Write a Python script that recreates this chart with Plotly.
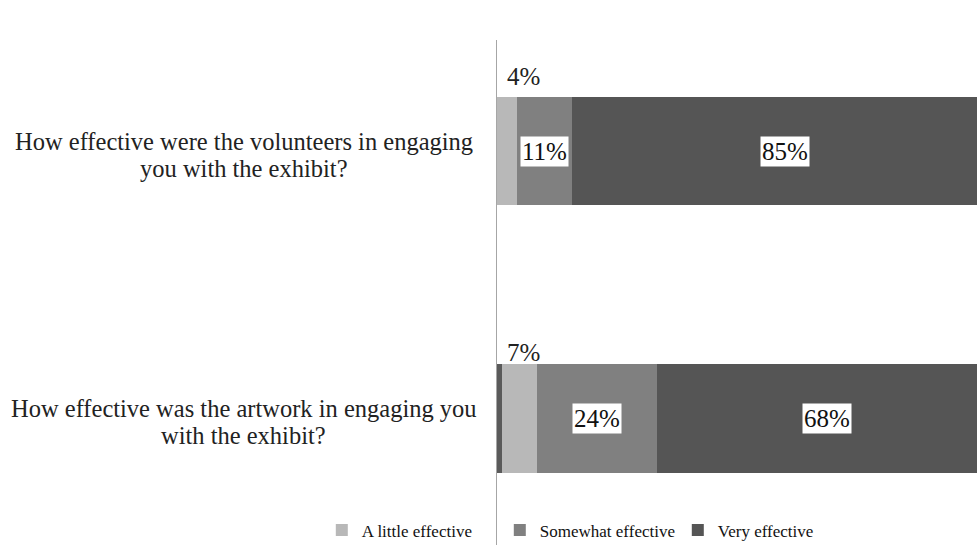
import plotly.graph_objects as go

questions = [
    ["How effective were the volunteers in engaging", "you with the exhibit?"],
    ["How effective was the artwork in engaging you", "with the exhibit?"],
]
series_names = ["Not at all effective", "A little effective", "Somewhat effective", "Very effective"]
not_at_all = [0, 1]
a_little = [4, 7]
somewhat = [11, 24]
very = [85, 68]

colors = ["#5a5a5a", "#b8b8b8", "#808080", "#555555"]
all_vals = [not_at_all, a_little, somewhat, very]
ypos = [0, 1]

fig = go.Figure()
for k, (name, vals) in enumerate(zip(series_names, all_vals)):
    fig.add_trace(go.Bar(
        y=ypos, x=vals, orientation="h", name=name,
        marker=dict(color=colors[k], line=dict(width=0)),
        showlegend=(k != 0), hoverinfo="x+name",
    ))

FONT = "Liberation Serif, Times New Roman, serif"
annotations = []
# category labels (centered, two lines each)
line_shifts = [10, -17]
for i, lines in enumerate(questions):
    for j, line in enumerate(lines):
        annotations.append(dict(
            x=-0.528, xref="paper", y=ypos[i], yref="y", text=line, showarrow=False,
            align="center", xanchor="center", yanchor="middle", yshift=line_shifts[j],
            font=dict(family=FONT, size=24.5, color="#222222"),
        ))

small_yshift = [6, -3]
for i in ypos:
    # small label above bar
    annotations.append(dict(
        x=0, xref="x", y=i - 0.2, yref="y", text=f"{a_little[i]}%",
        showarrow=False, xanchor="left", yanchor="bottom", xshift=8, yshift=small_yshift[i],
        font=dict(family=FONT, size=25, color="#222222"),
    ))
    cum = not_at_all[i] + a_little[i]
    for vals in (somewhat, very):
        center = cum + vals[i] / 2
        annotations.append(dict(
            x=center, xref="x", y=i, yref="y", text=f"{vals[i]}%",
            showarrow=False, xanchor="center", yanchor="middle",
            bgcolor="white", borderpad=1,
            font=dict(family=FONT, size=25, color="#111111"),
        ))
        cum += vals[i]

fig.update_layout(
    barmode="stack",
    bargap=0.596,
    width=977, height=545,
    margin=dict(l=497, r=0, t=40, b=0, autoexpand=False),
    paper_bgcolor="white", plot_bgcolor="white",
    font=dict(family=FONT, size=17, color="#222222"),
    xaxis=dict(range=[0, 96], visible=False, fixedrange=True),
    yaxis=dict(range=[1.473, -0.415], showticklabels=False, showgrid=False,
               zeroline=False, showline=True, linecolor="#a6a6a6", linewidth=1,
               ticks=""),
    legend=dict(orientation="h", x=-0.365, xanchor="left", y=-0.007, yanchor="bottom",
                bgcolor="rgba(0,0,0,0)", entrywidth=133, entrywidthmode="pixels",
                font=dict(family=FONT, size=17, color="#111111"), traceorder="normal"),
    annotations=annotations,
)

fig.write_html("out.html")
